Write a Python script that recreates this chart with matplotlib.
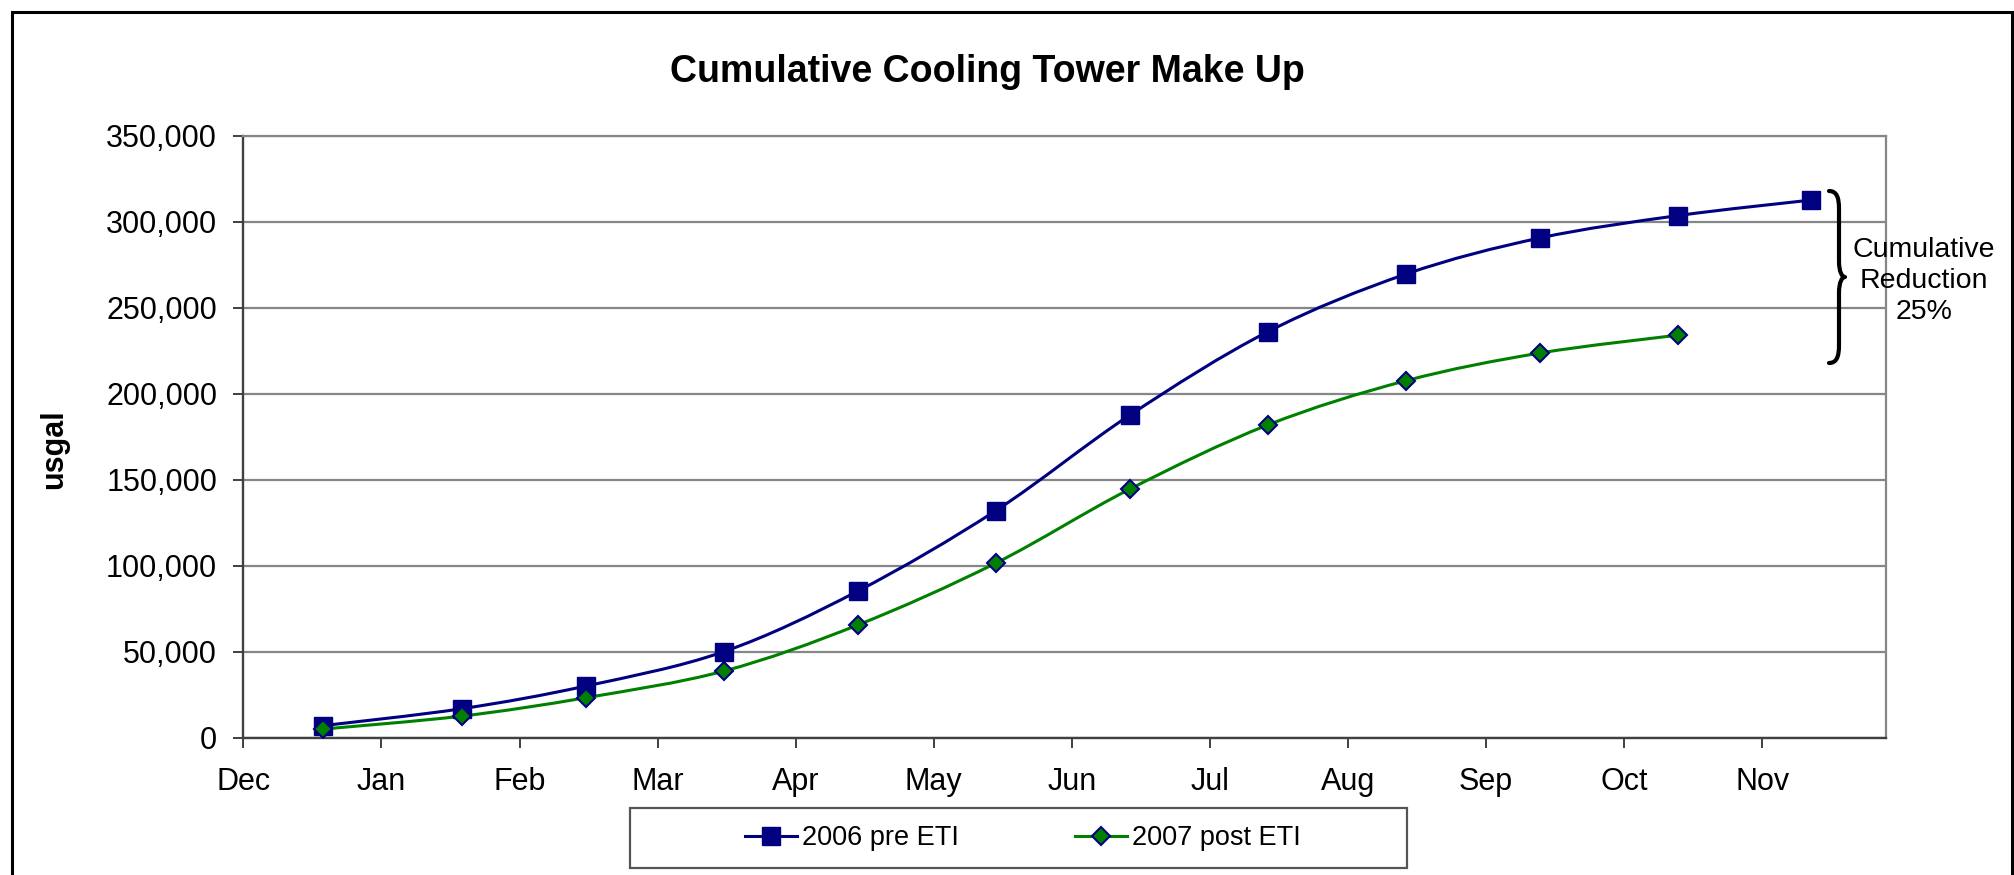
import matplotlib
matplotlib.use("Agg")
import matplotlib.pyplot as plt
from matplotlib.path import Path
from matplotlib.patches import PathPatch, Rectangle
from matplotlib.lines import Line2D
from matplotlib.ticker import FuncFormatter
import matplotlib.transforms as mtransforms
import numpy as np

plt.rcParams['font.family'] = ['Liberation Sans', 'DejaVu Sans']

# ---- data ----
months = ['Dec', 'Jan', 'Feb', 'Mar', 'Apr', 'May', 'Jun', 'Jul', 'Aug', 'Sep', 'Oct', 'Nov']
x_2006 = [0.58, 1.58, 2.48, 3.48, 4.45, 5.45, 6.42, 7.42, 8.42, 9.39, 10.39, 11.35]
usgal_2006 = [7000, 16800, 30000, 50000, 85200, 132000, 187500, 236000, 269500, 290500, 303500, 312500]
x_2007 = [0.58, 1.58, 2.48, 3.48, 4.45, 5.45, 6.42, 7.42, 8.42, 9.39, 10.39]
usgal_2007 = [5000, 12500, 23200, 38700, 65500, 101500, 144500, 181800, 207500, 223600, 234000]
y_ticks = [0, 50000, 100000, 150000, 200000, 250000, 300000, 350000]
title = 'Cumulative Cooling Tower Make Up'
series_names = ['2006 pre ETI', '2007 post ETI']
annotation = 'Cumulative\nReduction\n25%'

NAVY = '#000080'
GREEN = '#008000'
GRID = '#868686'
AXIS = '#404040'


def smooth_path(xs, ys):
    """Excel-style smoothed line: Catmull-Rom converted to cubic Bezier."""
    P = np.column_stack([xs, ys]).astype(float)
    n = len(P)
    verts = [P[0]]
    codes = [Path.MOVETO]
    for i in range(n - 1):
        p0 = P[i - 1] if i > 0 else P[i]
        p1 = P[i]
        p2 = P[i + 1]
        p3 = P[i + 2] if i + 2 < n else P[i + 1]
        c1 = p1 + (p2 - p0) / 6.0
        c2 = p2 - (p3 - p1) / 6.0
        verts += [c1, c2, p2]
        codes += [Path.CURVE4] * 3
    return Path(verts, codes)


fig = plt.figure(figsize=(20.15, 8.75), dpi=100)
fig.patch.set_facecolor('white')

ax = fig.add_axes([0.1208, 0.157, 0.8154, 0.688])
ax.set_xlim(0, 11.9)
ax.set_ylim(0, 350000)

# grid
ax.set_yticks(y_ticks)
ax.yaxis.set_major_formatter(FuncFormatter(lambda v, p: f'{int(v):,}'))
ax.grid(axis='y', color=GRID, linewidth=1.6, zorder=0)
ax.set_axisbelow(True)

ax.set_xticks(range(len(months)))
ax.set_xticklabels(months)

for s in ['top', 'right']:
    ax.spines[s].set_color(GRID)
    ax.spines[s].set_linewidth(1.6)
for s in ['left', 'bottom']:
    ax.spines[s].set_color(AXIS)
    ax.spines[s].set_linewidth(1.7)

ax.tick_params(axis='both', direction='out', length=7, width=1.4, color=AXIS,
               labelsize=22, labelcolor='black')
ax.tick_params(axis='x', pad=14)
ax.tick_params(axis='y', pad=12)

# series lines (smoothed)
for xs, ys, col in [(x_2006, usgal_2006, NAVY), (x_2007, usgal_2007, GREEN)]:
    pp = PathPatch(smooth_path(xs, ys), fill=False, edgecolor=col, linewidth=2.2,
                   transform=ax.transData, zorder=3)
    ax.add_patch(pp)

ax.plot(x_2006, usgal_2006, linestyle='none', marker='s', markersize=13,
        markerfacecolor=NAVY, markeredgecolor=NAVY, zorder=4)
ax.plot(x_2007, usgal_2007, linestyle='none', marker='D', markersize=9.5,
        markerfacecolor=GREEN, markeredgecolor=NAVY, markeredgewidth=1.5, zorder=4)

# title & y label
fig.text(0.4898, 0.918, title, ha='center', va='center', fontsize=27, fontweight='bold')
fig.text(0.027, 0.487, 'usgal', ha='center', va='center', rotation=90, fontsize=22,
         fontweight='bold')

# brace annotation (drawn in figure pixel space)
H = 875.0
def fy(y):
    return H - y
bx = 1829.0
btop, bmid, bbot = 191.0, 277.0, 363.0
brace_verts = [
    (bx, fy(btop)),
    (bx + 8, fy(btop)), (bx + 10, fy(btop + 7)), (bx + 10, fy(btop + 18)),
    (bx + 10, fy(bmid - 16)),
    (bx + 10, fy(bmid - 5)), (bx + 13, fy(bmid)), (bx + 16, fy(bmid)),
    (bx + 13, fy(bmid)), (bx + 10, fy(bmid + 5)), (bx + 10, fy(bmid + 16)),
    (bx + 10, fy(bbot - 18)),
    (bx + 10, fy(bbot - 7)), (bx + 8, fy(bbot)), (bx, fy(bbot)),
]
brace_codes = [Path.MOVETO,
               Path.CURVE4, Path.CURVE4, Path.CURVE4,
               Path.LINETO,
               Path.CURVE4, Path.CURVE4, Path.CURVE4,
               Path.CURVE4, Path.CURVE4, Path.CURVE4,
               Path.LINETO,
               Path.CURVE4, Path.CURVE4, Path.CURVE4]
fig.add_artist(PathPatch(Path(brace_verts, brace_codes), fill=False, edgecolor='black',
                         linewidth=3.0, transform=mtransforms.IdentityTransform(),
                         capstyle='round', joinstyle='round'))
fig.text(1924 / 2015, 1 - 281 / 875, annotation, ha='center', va='center',
         fontsize=20.5, linespacing=1.25, multialignment='center')

# legend
handles = [
    Line2D([], [], color=NAVY, linewidth=2.2, marker='s', markersize=13,
           markerfacecolor=NAVY, markeredgecolor=NAVY),
    Line2D([], [], color=GREEN, linewidth=2.2, marker='D', markersize=9.5,
           markerfacecolor=GREEN, markeredgecolor=NAVY, markeredgewidth=1.5),
]
fig.legend(handles, series_names, loc='center', bbox_to_anchor=(1023 / 2015, 1 - 838 / 875),
           ncol=2, frameon=False, fontsize=19.5, handlelength=1.9, handletextpad=0.2,
           columnspacing=4.3)
fig.add_artist(Rectangle((630 / 2015, 1 - 868 / 875), 777 / 2015, 60 / 875,
                         transform=fig.transFigure, fill=False, edgecolor='#555555',
                         linewidth=1.6))

# outer frame (left, top, right)
fx = mtransforms.IdentityTransform()
fig.add_artist(Line2D([12, 12, 2012, 2012], [0, H - 12, H - 12, 0], color='black',
                      linewidth=2.2, transform=fx, solid_joinstyle='miter'))

fig.savefig('out.png', dpi=100)
